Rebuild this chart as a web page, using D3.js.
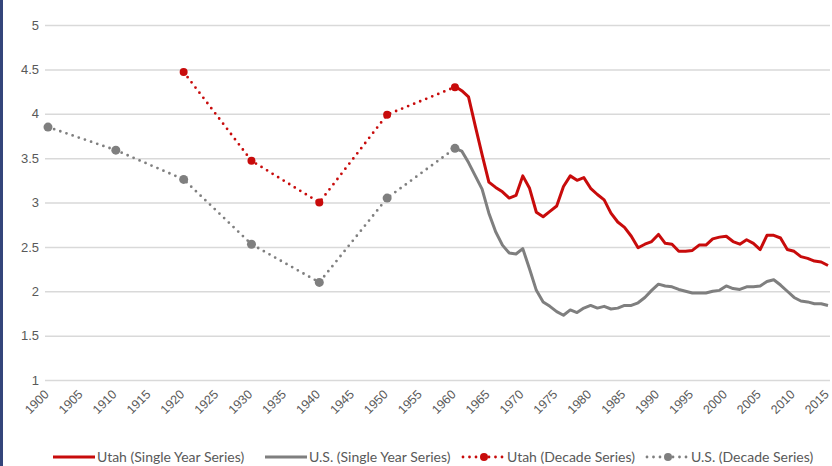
<!DOCTYPE html>
<html>
<head>
<meta charset="utf-8">
<script src="https://cdn.jsdelivr.net/npm/d3@7"></script>
<style>
    body { margin: 0; background: #fff; }
    svg { display: block; font-family: Lato, 'Open Sans', sans-serif; }
</style>
</head>
<body>
<div id="chart"></div>
<script>
// data
var years = d3.range(1900, 2016)
var singleYears = d3.range(1960, 2016)
var decadeYearsUS = [1900, 1910, 1920, 1930, 1940, 1950, 1960]
var decadeUS = [3.85, 3.59, 3.26, 2.53, 2.10, 3.05, 3.61]
var decadeYearsUtah = [1920, 1930, 1940, 1950, 1960]
var decadeUtah = [4.47, 3.47, 3.00, 3.99, 4.30]
var utahSingle = [4.31, 4.26, 4.19, 3.86, 3.54, 3.23, 3.17, 3.12, 3.05, 3.08,
    3.30, 3.16, 2.89, 2.84, 2.90, 2.96, 3.18, 3.30, 3.25, 3.28,
    3.16, 3.09, 3.03, 2.88, 2.78, 2.72, 2.62, 2.49, 2.53, 2.56,
    2.64, 2.54, 2.53, 2.45, 2.45, 2.46, 2.52, 2.52, 2.59, 2.61,
    2.62, 2.56, 2.53, 2.58, 2.54, 2.47, 2.63, 2.63, 2.60, 2.47,
    2.45, 2.39, 2.37, 2.34, 2.33, 2.29]
var usSingle = [3.61, 3.58, 3.45, 3.30, 3.15, 2.88, 2.67, 2.52, 2.43, 2.42,
    2.48, 2.25, 2.01, 1.88, 1.83, 1.77, 1.73, 1.79, 1.76, 1.81,
    1.84, 1.81, 1.83, 1.80, 1.81, 1.84, 1.84, 1.87, 1.93, 2.01,
    2.08, 2.06, 2.05, 2.02, 2.00, 1.98, 1.98, 1.98, 2.00, 2.01,
    2.06, 2.03, 2.02, 2.05, 2.05, 2.06, 2.11, 2.13, 2.07, 2.00,
    1.93, 1.89, 1.88, 1.86, 1.86, 1.84]
var yTicks = [1, 1.5, 2, 2.5, 3, 3.5, 4, 4.5, 5]
var xTicks = d3.range(1900, 2016, 5)
var legendLabels = ['Utah (Single Year Series)', 'U.S. (Single Year Series)',
    'Utah (Decade Series)', 'U.S. (Decade Series)']

var red = '#c80b0b'
var gray = '#7f7f7f'

var width = 832
var height = 466

// scales
var x = d3.scalePoint()
    .domain(years)
    .range([48, 828])
var y = d3.scaleLinear()
    .domain([1, 5])
    .range([380, 25])

var svg = d3.select('#chart')
    .append('svg')
    .attr('width', width)
    .attr('height', height)

// dark border on the left
svg.append('rect')
    .attr('x', 0)
    .attr('y', 0)
    .attr('width', 3)
    .attr('height', height)
    .style('fill', '#34457a')

// y axis with gridlines
var yAxis = d3.axisLeft(y)
    .tickValues(yTicks)
    .tickSize(-(830 - 45))
    .tickPadding(6)
    .tickFormat(function (d) { return d })
var gy = svg.append('g')
    .attr('transform', 'translate(45,0)')
    .call(yAxis)
gy.select('.domain').remove()
gy.selectAll('line')
    .style('stroke', '#d9d9d9')
    .style('stroke-width', 1.5)
gy.selectAll('text')
    .style('fill', '#595959')
    .style('font-size', '13px')

// x axis, rotated labels
var xAxis = d3.axisBottom(x)
    .tickValues(xTicks)
    .tickSize(0)
var gx = svg.append('g')
    .attr('transform', 'translate(0,380)')
    .call(xAxis)
gx.select('.domain').remove()
gx.selectAll('text')
    .attr('y', 0)
    .attr('x', 0)
    .attr('dy', '0.35em')
    .attr('transform', 'translate(-2,12) rotate(-45)')
    .style('text-anchor', 'end')
    .style('fill', '#595959')
    .style('font-size', '12.5px')

var line = d3.line()
    .x(function (d) { return x(d[0]) })
    .y(function (d) { return y(d[1]) })

// decade series, dotted
function decade(yrs, vals, color, r) {
    var pts = d3.zip(yrs, vals)
    svg.append('path')
        .datum(pts)
        .attr('d', line)
        .style('fill', 'none')
        .style('stroke', color)
        .style('stroke-width', 2.8)
        .style('stroke-linecap', 'round')
        .style('stroke-dasharray', '0 6.5')
    svg.selectAll(null)
        .data(pts)
        .enter()
        .append('circle')
        .attr('cx', function (d) { return x(d[0]) })
        .attr('cy', function (d) { return y(d[1]) })
        .attr('r', r)
        .style('fill', color)
}
decade(decadeYearsUS, decadeUS, gray, 4.5)
decade(decadeYearsUtah, decadeUtah, red, 4)

// single year series, solid
function single(vals, color) {
    svg.append('path')
        .datum(d3.zip(singleYears, vals))
        .attr('d', line)
        .style('fill', 'none')
        .style('stroke', color)
        .style('stroke-width', 3)
        .style('stroke-linejoin', 'round')
}
single(usSingle, gray)
single(utahSingle, red)

// legend
var legendX = [53, 265, 463, 647]
var legendColors = [red, gray, red, gray]
var legend = svg.selectAll('.legend')
    .data(legendLabels)
    .enter()
    .append('g')
    .attr('class', 'legend')
    .attr('transform', function (d, i) { return 'translate(' + legendX[i] + ',457)' })
legend.append('line')
    .attr('x1', 0)
    .attr('x2', 42)
    .style('stroke', function (d, i) { return legendColors[i] })
    .style('stroke-width', function (d, i) { return i < 2 ? 3 : 2.8 })
    .style('stroke-linecap', function (d, i) { return i < 2 ? 'butt' : 'round' })
    .style('stroke-dasharray', function (d, i) { return i < 2 ? null : '0 6.5' })
legend.filter(function (d, i) { return i >= 2 })
    .append('circle')
    .attr('cx', 21)
    .attr('r', 4)
    .style('fill', function (d, i) { return legendColors[i + 2] })
legend.append('text')
    .attr('x', 44)
    .attr('dy', '0.35em')
    .style('fill', '#595959')
    .style('font-size', '14px')
    .text(function (d) { return d })
</script>
</body>
</html>
